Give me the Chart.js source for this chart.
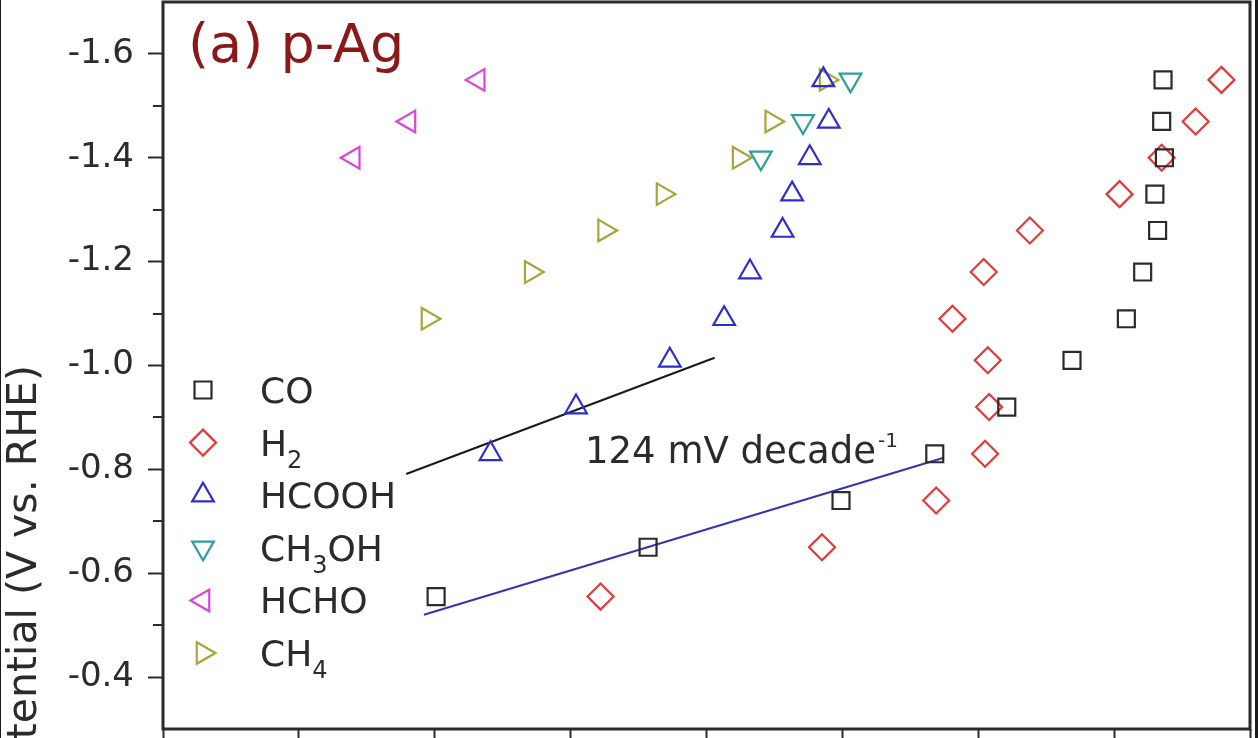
<!DOCTYPE html>
<html>
<head>
<meta charset="utf-8">
<title>p-Ag Tafel</title>
<script src="https://cdn.jsdelivr.net/npm/chart.js@4.4.1/dist/chart.umd.min.js"></script>
<style>
  html, body { margin: 0; padding: 0; background: #1c1c1c; overflow: hidden; }
  #wrap { position: absolute; left: 1px; top: 0; width: 1254px; height: 738px; background: #fff; }
</style>
</head>
<body>
<div id="wrap"><canvas id="tafel"></canvas></div>
<script>
// Potentials (V vs. RHE) and log partial current density for each product
const coPot     = [-0.555, -0.65, -0.74, -0.83, -0.92, -1.01, -1.09, -1.18, -1.26, -1.33, -1.40, -1.47, -1.55];
const coLogJ    = [2.01, 3.57, 4.99, 5.68, 6.21, 6.69, 7.09, 7.21, 7.32, 7.30, 7.37, 7.35, 7.36];
const h2Pot     = [-0.555, -0.65, -0.74, -0.83, -0.92, -1.01, -1.09, -1.18, -1.26, -1.33, -1.40, -1.47, -1.55];
const h2LogJ    = [3.22, 4.85, 5.69, 6.05, 6.08, 6.07, 5.81, 6.04, 6.38, 7.04, 7.35, 7.60, 7.79];
const hcoohPot  = [-0.83, -0.92, -1.01, -1.09, -1.18, -1.26, -1.33, -1.40, -1.47, -1.55];
const hcoohLogJ = [2.41, 3.04, 3.73, 4.13, 4.32, 4.56, 4.63, 4.76, 4.90, 4.86];
const ch3ohPot  = [-1.40, -1.47, -1.55];
const ch3ohLogJ = [4.40, 4.71, 5.06];
const hchoPot   = [-1.40, -1.47, -1.55];
const hchoLogJ  = [1.40, 1.81, 2.32];
const ch4Pot    = [-1.09, -1.18, -1.26, -1.33, -1.40, -1.47, -1.55];
const ch4LogJ   = [1.95, 2.71, 3.25, 3.68, 4.24, 4.48, 4.88];

// Tafel fit lines (end points)
const fitHcoohX = [1.79, 4.06];
const fitHcoohY = [-0.791, -1.015];
const fitCoX    = [1.92, 5.74];
const fitCoY    = [-0.520, -0.822];

// minor ticks on the potential axis
const yMinorTicks = [-1.5, -1.3, -1.1, -0.9, -0.7, -0.5];

const seriesNames = ['CO', 'H2', 'HCOOH', 'CH3OH', 'HCHO', 'CH4'];
const panelTitle = '(a) p-Ag';
const yTitle = 'Potential (V vs. RHE)';
const slopeText = '124 mV decade';
const slopeSup = '-1';

const FONT = "'DejaVu Sans', 'Liberation Sans', sans-serif";
const INK = '#2b2b2b';

const toPts = (xs, ys) => xs.map((x, i) => ({ x: x, y: ys[i] }));

const styles = [
  { color: '#2b2b2b', pointStyle: 'rect',     rotation: 0,   radius: 12 },
  { color: '#e03a3a', pointStyle: 'rectRot',  rotation: 0,   radius: 13 },
  { color: '#2e2ec8', pointStyle: 'triangle', rotation: 0,   radius: 12.5 },
  { color: '#2f9e9e', pointStyle: 'triangle', rotation: 180, radius: 12.5 },
  { color: '#d845d8', pointStyle: 'triangle', rotation: 270, radius: 12.5 },
  { color: '#a6a63a', pointStyle: 'triangle', rotation: 90,  radius: 12.5 }
];

const seriesData = [
  toPts(coLogJ, coPot),
  toPts(h2LogJ, h2Pot),
  toPts(hcoohLogJ, hcoohPot),
  toPts(ch3ohLogJ, ch3ohPot),
  toPts(hchoLogJ, hchoPot),
  toPts(ch4LogJ, ch4Pot)
];

const pointSets = seriesNames.map((name, i) => ({
  label: name,
  data: seriesData[i],
  showLine: false,
  borderColor: styles[i].color,
  backgroundColor: 'rgba(0,0,0,0)',
  pointStyle: styles[i].pointStyle,
  rotation: styles[i].rotation,
  pointRadius: styles[i].radius,
  pointBorderWidth: 2.2
}));

const lineSets = [
  { label: 'fit HCOOH', data: toPts(fitHcoohX, fitHcoohY), borderColor: '#1a1a1a' },
  { label: 'fit CO', data: toPts(fitCoX, fitCoY), borderColor: '#3434b0' }
].map(d => Object.assign(d, { showLine: true, pointRadius: 0, borderWidth: 2, fill: false }));

const isMajor = v => {
  const k = Math.round(v * 10);
  return k % 2 === 0 && k > -17 && k < -3;
};

// text with digits drawn as subscripts (H2 -> H₂)
function drawChem(ctx, text, x, y, size) {
  let cx = x;
  for (const ch of text) {
    const sub = /[0-9]/.test(ch);
    ctx.font = (sub ? Math.round(size * 0.68) : size) + 'px ' + FONT;
    ctx.fillText(ch, cx, sub ? y + 12 : y);
    cx += ctx.measureText(ch).width;
  }
}

const decorations = {
  id: 'decorations',
  afterDraw(chart) {
    const { ctx, chartArea: a, scales } = chart;
    ctx.save();

    // frame
    ctx.strokeStyle = INK;
    ctx.lineWidth = 3;
    ctx.strokeRect(a.left, a.top, a.right - a.left, a.bottom - a.top);

    // minor y ticks
    const ys = scales.y;
    ctx.lineWidth = 2;
    yMinorTicks.forEach(v => {
      const py = Math.round(ys.getPixelForValue(v));
      ctx.beginPath();
      ctx.moveTo(a.left - 10, py);
      ctx.lineTo(a.left, py);
      ctx.stroke();
    });

    // y axis title (cropped like the source figure)
    ctx.save();
    ctx.translate(35, 365);
    ctx.rotate(-Math.PI / 2);
    ctx.fillStyle = INK;
    ctx.font = '41px ' + FONT;
    ctx.textAlign = 'right';
    ctx.textBaseline = 'alphabetic';
    ctx.fillText(yTitle, 0, 0);
    ctx.restore();

    // panel title
    ctx.fillStyle = '#8a1a1a';
    ctx.font = '54px ' + FONT;
    ctx.textAlign = 'left';
    ctx.textBaseline = 'alphabetic';
    ctx.fillText(panelTitle, 187, 62);

    // legend
    const rowY = 390, rowGap = 52.6;
    seriesNames.forEach((name, i) => {
      const cy = rowY + i * rowGap;
      ctx.strokeStyle = styles[i].color;
      ctx.fillStyle = 'rgba(0,0,0,0)';
      ctx.lineWidth = 2.2;
      Chart.helpers.drawPoint(ctx, {
        pointStyle: styles[i].pointStyle,
        rotation: styles[i].rotation,
        radius: styles[i].radius,
        borderWidth: 2.2
      }, 202, cy);
      ctx.fillStyle = INK;
      drawChem(ctx, name, 259, cy + 13, 36);
    });

    // slope annotation
    ctx.fillStyle = INK;
    ctx.font = '37px ' + FONT;
    ctx.fillText(slopeText, 584, 463);
    const w = ctx.measureText(slopeText).width;
    ctx.font = '20px ' + FONT;
    ctx.fillText(slopeSup, 584 + w + 2, 447);

    ctx.restore();
  }
};

new Chart(document.getElementById('tafel'), {
  type: 'scatter',
  data: { datasets: pointSets.concat(lineSets) },
  options: {
    responsive: true,
    maintainAspectRatio: false,
    animation: false,
    layout: { autoPadding: false, padding: { top: 2, right: 5, left: 0, bottom: 0 } },
    plugins: {
      legend: { display: false },
      tooltip: { enabled: false }
    },
    scales: {
      x: {
        type: 'linear',
        min: 0,
        max: 8,
        ticks: { display: false, stepSize: 1 },
        grid: { drawOnChartArea: false, tickLength: 10, tickWidth: 2, tickColor: INK },
        border: { display: false },
        afterFit: s => { s.height = 9; s.paddingLeft = 0; s.paddingRight = 0; }
      },
      y: {
        type: 'linear',
        reverse: true,
        min: -1.7,
        max: -0.3,
        ticks: {
          stepSize: 0.1,
          maxTicksLimit: 30,
          autoSkip: false,
          padding: 14,
          color: INK,
          font: { family: FONT, size: 34 },
          callback: v => isMajor(v) ? v.toFixed(1) : null
        },
        grid: {
          drawOnChartArea: false,
          tickLength: 15,
          tickWidth: 2,
          tickColor: c => (c.tick && isMajor(c.tick.value)) ? INK : 'rgba(0,0,0,0)'
        },
        border: { display: false },
        afterFit: s => { s.width = 162; s.paddingTop = 0; s.paddingBottom = 0; }
      }
    }
  },
  plugins: [decorations]
});
</script>
</body>
</html>
